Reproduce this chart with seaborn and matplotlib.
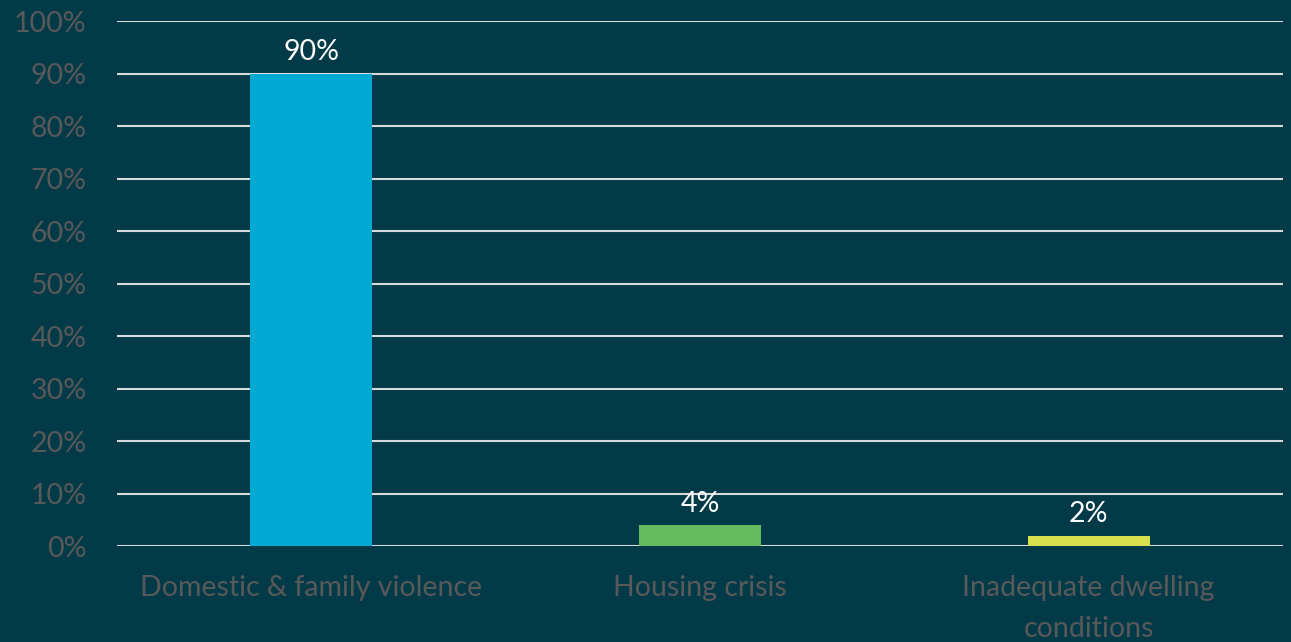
import pandas as pd
import matplotlib
matplotlib.use("Agg")
import matplotlib.pyplot as plt
import seaborn as sns
from matplotlib.ticker import MultipleLocator, PercentFormatter

# ----------------------------------------------------------
# DATA
# ----------------------------------------------------------

categories = ["Domestic & family violence", "Housing crisis",
              "Inadequate dwelling\nconditions"]
values = [90, 4, 2]
bar_colors = ["#00A9D4", "#64BC5E", "#D9E04E"]

bg = "#023A47"
tick_color = "#595959"

df = pd.DataFrame({"Reason": categories, "Share": values})

# ----------------------------------------------------------
# PLOT
# ----------------------------------------------------------

sns.set_style("white")
plt.rcParams['font.family'] = ['Lato', 'DejaVu Sans']

fig = plt.figure(figsize=(12.91, 6.42), dpi=100, facecolor=bg)
ax = fig.add_axes([0.0906, 0.1495, 0.9032, 0.8175])
ax.set_facecolor(bg)

sns.barplot(data=df, x="Reason", y="Share", hue="Reason",
            palette=bar_colors, width=0.314, legend=False, ax=ax,
            saturation=1, linewidth=0, zorder=3)

ax.set_ylim(0, 100)
ax.set_xlim(-0.5, 2.5)
ax.yaxis.set_major_locator(MultipleLocator(10))
ax.yaxis.set_major_formatter(PercentFormatter(decimals=0))
ax.grid(axis="y", color="#D9D9D9", linewidth=1.5, zorder=0)
ax.set_axisbelow(True)
for s in ax.spines.values():
    s.set_visible(False)

ax.set_xlabel("")
ax.set_ylabel("")
ax.tick_params(axis="both", length=0, labelsize=20.5, colors=tick_color)
ax.tick_params(axis="y", pad=22)
ax.tick_params(axis="x", pad=21)
for lab in ax.get_xticklabels():
    lab.set_linespacing(1.7)

for p, v in zip(ax.patches, values):
    ax.annotate(f"{v}%", (p.get_x() + p.get_width() / 2, p.get_height()),
                xytext=(0, 6), textcoords="offset points",
                ha="center", va="bottom", color="white", fontsize=20.5)

fig.savefig("out.png", dpi=100, facecolor=bg)
